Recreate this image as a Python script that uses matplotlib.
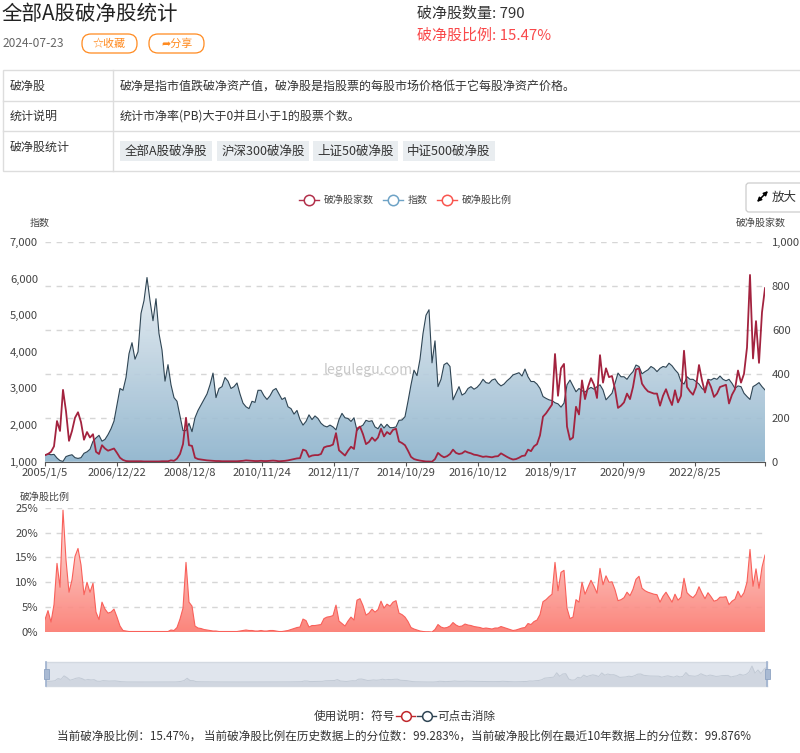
import numpy as np
import matplotlib
matplotlib.use("Agg")
import matplotlib.pyplot as plt
from matplotlib.colors import LinearSegmentedColormap
from matplotlib.patches import FancyBboxPatch, Rectangle
from matplotlib.lines import Line2D

plt.rcParams['font.family'] = ['Noto Sans CJK SC', 'DejaVu Sans']

tick_labels = ["2005/1/5", "2006/12/22", "2008/12/8", "2010/11/24", "2012/11/7",
               "2014/10/29", "2016/10/12", "2018/9/17", "2020/9/9", "2022/8/25"]

index_values = [
 1180,1210,1190,1200,1100,1030,1010,1140,1170,1190,1110,1090,1110,1230,1270,1340,1560,1650,1720,1560,
 1610,1740,1900,2110,2550,3000,2950,3300,3950,4250,3800,4000,5050,5400,6030,5400,4850,5450,4500,4050,
 3200,3650,3100,2750,2650,2250,1850,1850,2050,1820,2200,2400,2550,2700,2850,3100,3420,2750,3000,3050,
 3300,3200,3000,3050,3150,2850,2600,2500,2450,2650,2620,2950,2950,2800,2700,2800,2950,3000,2850,2700,
 2750,2500,2450,2300,2400,2150,2000,2100,2280,2150,2250,2180,2050,1980,1950,2000,1950,1870,2150,2320,
 2200,2180,2100,2200,1850,1950,2000,2130,2100,2120,1950,1900,2030,1920,2020,1930,1930,1950,2130,2140,
 2230,2650,3100,3500,3350,3800,4500,5000,5150,3700,4300,3050,3250,3650,3700,3600,2690,2870,3050,2820,
 2870,3000,3050,2980,3030,3120,3250,3160,3140,3230,3260,3140,3070,3120,3210,3280,3370,3400,3430,3340,
 3530,3320,3190,3190,3120,3000,2780,2730,2690,2670,2610,2580,2490,2600,3100,3230,3070,2910,3000,2940,
 2900,2980,3030,2980,3050,3100,2960,2690,2780,2870,3140,3420,3320,3320,3250,3370,3460,3640,3600,3400,
 3460,3510,3600,3550,3460,3550,3600,3580,3690,3620,3510,3420,3190,3120,3320,3250,3250,3190,3120,3000,
 2940,3250,3230,3280,3250,3340,3250,3210,3250,3140,3000,3070,3050,2870,2780,2700,3050,3100,3160,3050,
 2960]

count_values = [
 30,35,45,70,185,140,327,230,95,140,200,225,180,100,135,110,125,45,35,75,
 60,50,55,60,40,18,8,3,2,2,2,2,2,1,1,1,1,1,1,2,
 2,2,6,4,14,35,80,200,75,72,18,12,10,8,6,5,4,3,3,2,
 2,2,2,2,2,3,4,6,5,4,3,3,4,3,3,4,5,4,2,3,
 4,6,9,12,15,16,55,50,22,28,30,30,35,65,70,72,78,130,52,40,
 28,50,68,58,150,160,125,80,90,110,95,110,150,115,135,125,145,150,92,85,
 75,50,22,12,8,5,3,1,1,0,12,40,28,20,25,35,55,40,35,38,
 48,42,38,32,30,26,22,24,22,20,24,25,38,30,22,15,10,12,18,26,
 28,55,48,70,80,120,205,220,240,260,490,300,425,445,160,100,110,250,215,370,
 285,340,380,350,290,485,360,425,385,390,330,245,255,270,310,285,340,420,425,355,
 335,320,315,310,310,255,300,330,290,258,325,270,300,505,340,320,305,340,440,370,
 315,370,340,295,310,340,345,350,265,305,330,415,360,400,520,850,470,640,450,680,
 790]

ratio_values = [
 2.5,4.3,2.0,5.5,13.8,9.0,24.5,14.5,8,10.5,15.2,16.8,13.5,7.5,10,8,9.8,4,2.5,6,
 4.6,3.8,4,4.6,3,1.2,0.3,0.2,0.1,0.1,0.1,0.1,0.1,0.1,0.1,0.1,0.1,0.1,0.1,0.1,
 0.1,0.1,0.4,0.3,0.9,2.6,4.8,14,6,5.2,1.2,0.8,0.7,0.5,0.4,0.3,0.2,0.2,0.1,0.1,
 0.1,0.1,0.1,0.1,0.1,0.2,0.3,0.4,0.3,0.3,0.2,0.2,0.3,0.2,0.2,0.3,0.3,0.2,0.1,0.1,
 0.2,0.3,0.5,0.7,0.9,1,2.6,2.3,1,1.3,1.3,1.4,1.5,2.7,3,3.1,3.3,5.4,2.2,1.7,
 1.2,2.2,3,2.4,6.4,6.7,5.3,3.4,3.8,4.6,4,4.5,6.2,4.8,5.6,5.2,6,6.3,3.8,3.5,
 3,2.1,0.9,0.6,0.4,0.2,0.1,0.05,0.05,0,0.5,1.5,1,0.8,0.9,1.2,1.9,1.4,1.1,1.2,
 1.6,1.4,1.3,1.1,1,0.9,0.7,0.8,0.7,0.6,0.8,0.8,1.1,0.9,0.7,0.5,0.3,0.4,0.6,0.8,
 0.9,1.7,1.5,2.1,2.4,3.5,6.1,6.5,7.1,7.6,14,8.3,12,12.4,4.8,2.7,3,6.5,6,10,
 7.6,9,10.4,9.2,7.8,12.8,9.5,11.3,10,10.1,8.5,6.3,6.5,6.9,8,7.3,8.6,10.6,11.2,8.8,
 8.3,8,7.8,7.6,7.5,6,7.2,8,7,6,7.6,6.4,7,10.8,7.9,7.3,6.9,7.6,9.1,7.8,
 6.7,7.9,7.1,6.2,6.4,7,7,7.1,5.5,6.2,6.6,8.2,7,7.9,10,16.6,9.2,12.7,8.8,13,
 15.47]

W, H = 800, 753
fig = plt.figure(figsize=(W/100, H/100), dpi=100, facecolor='white')

def px_axes(x0, y0, x1, y1, **kw):
    return fig.add_axes([x0/W, 1-y1/H, (x1-x0)/W, (y1-y0)/H], **kw)

# page layer
pg = px_axes(0, 0, W, H)
pg.set_xlim(0, W); pg.set_ylim(H, 0); pg.axis('off')
pt = 0.72
def T(x, y, s, px=12, c='#333333', ha='left', **kw):
    return pg.text(x, y, s, fontsize=px*pt, color=c, ha=ha, va='center', **kw)

T(2, 14, "全部A股破净股统计", 20.5, '#222222')
T(3, 43, "2024-07-23", 12, '#666666')
orange = '#ff8a1f'
for x0, x1, s in [(82, 137, "☆收藏"), (149, 204, "➦分享")]:
    pg.add_patch(FancyBboxPatch((x0+9, 34+9), x1-x0-18, 1, boxstyle="round,pad=9", fc='white', ec=orange, lw=0.9))
    T((x0+x1)/2, 43.5, s, 11, orange, ha='center')
T(417, 14, "破净股数量: 790", 15, '#333333')
T(417, 36, "破净股比例: 15.47%", 15, '#f9484a')

line = '#dddddd'
pg.add_patch(Rectangle((3, 70), 800, 101, fc='white', ec=line, lw=1))
for y in (101, 131):
    pg.plot([3, W], [y, y], color=line, lw=1)
pg.plot([113, 113], [70, 171], color=line, lw=1)
T(10, 86, "破净股", 12)
T(10, 116, "统计说明", 12)
T(10, 147, "破净股统计", 12)
T(120, 86, "破净是指市值跌破净资产值，破净股是指股票的每股市场价格低于它每股净资产价格。", 12)
T(120, 116, "统计市净率(PB)大于0并且小于1的股票个数。", 12)
for x0, x1, s in [(120, 212, "全部A股破净股"), (217, 309, "沪深300破净股"),
                  (313, 398, "上证50破净股"), (403, 495, "中证500破净股")]:
    pg.add_patch(Rectangle((x0, 141), x1-x0, 20, fc='#e9edf0', ec='none'))
    T((x0+x1)/2, 151, s, 12.5, ha='center')

pg.add_patch(FancyBboxPatch((749, 186), 60, 23, boxstyle="round,pad=3", fc='white', ec='#cccccc', lw=0.9))
pg.annotate("", xy=(768, 191), xytext=(757, 202),
            arrowprops=dict(arrowstyle='<|-|>', color='#000000', lw=1.1, mutation_scale=6,
                            shrinkA=0, shrinkB=0))
T(772, 197, "放大", 12.5, '#333333')

def legend_mark(x0, x1, y, color, ms=7.5, lw=1):
    pg.add_line(Line2D([x0, x1], [y, y], color=color, lw=lw))
    pg.plot([(x0+x1)/2], [y], 'o', ms=ms, mfc='white', mec=color, mew=1.1)

legend_mark(299, 319, 200, '#b2304b')
T(324, 200, "破净股家数", 10, '#444444')
legend_mark(383, 403, 200, '#6ea3c6')
T(408, 200, "指数", 10, '#444444')
legend_mark(437, 457, 200, '#f9564f')
T(462, 200, "破净股比例", 10, '#444444')

T(40, 223, "指数", 10, '#444444', ha='center')
T(761, 223, "破净股家数", 10, '#444444', ha='center')
T(45, 497, "破净股比例", 10, '#444444', ha='center')

T(314, 716, "使用说明：符号", 11.6)
legend_mark(396, 415, 716, '#c0282c', ms=7)
legend_mark(417, 436, 716, '#2f4554', ms=7)
T(437, 716, "可点击消除", 11.6)
T(57, 736, "当前破净股比例：15.47%， 当前破净股比例在历史数据上的分位数：99.283%，当前破净股比例在最近10年数据上的分位数：99.876%", 11.6)

xi = np.arange(len(index_values))
xc = np.arange(len(count_values))
xr = np.arange(len(ratio_values))
xlim = (0, 240)
tick_pos = np.arange(len(tick_labels)) * 24.07
tick_fs = 8.1

def gradient_fill(ax, x, y, base, top_c, bot_c):
    poly = ax.fill_between(x, base, y, color='none', lw=0)
    cmap = LinearSegmentedColormap.from_list('g', [bot_c, top_c])
    grad = np.linspace(0, 1, 256).reshape(-1, 1)
    im = ax.imshow(grad, extent=[x[0], x[-1], base, max(y)], origin='lower',
                   aspect='auto', cmap=cmap, zorder=1, alpha=0.92)
    im.set_clip_path(poly.get_paths()[0], transform=ax.transData)

dash = dict(color='#d6d6d6', lw=1, ls=(0, (4, 4)))

# count scale axes: gridlines, right labels
x0, x1 = 45, 765
y0, y1 = 242, 461.7
ag = px_axes(x0, y0, x1, y1)
ag.set_xlim(*xlim); ag.set_ylim(0, 1000)
ag.patch.set_visible(False)
ag.set_yticks(range(0, 1001, 200))
ag.set_yticklabels([f"{v:,}" for v in range(0, 1001, 200)], fontsize=tick_fs, color='#444444')
ag.yaxis.tick_right()
ag.tick_params(axis='y', length=0, pad=5)
ag.set_xticks([])
ag.grid(axis='y', **dash)
for s in ag.spines.values():
    s.set_visible(False)

# index axes
ai = px_axes(x0, y0, x1, y1)
ai.patch.set_visible(False)
gradient_fill(ai, xi, index_values, 1000, '#e6ecf1', '#8db3cc')
ai.plot(xi, index_values, color='#2f4554', lw=0.8, zorder=3)
ai.set_xlim(*xlim); ai.set_ylim(1000, 7000)
ai.set_yticks(range(1000, 7001, 1000))
ai.set_yticklabels([f"{v:,}" for v in range(1000, 7001, 1000)], fontsize=tick_fs, color='#444444')
ai.tick_params(axis='y', length=0, pad=5)
ai.set_xticks(list(tick_pos) + [240])
ai.set_xticklabels(tick_labels + [""], fontsize=tick_fs, color='#444444')
ai.tick_params(axis='x', length=3, color='#555555', pad=1)
for k in ('top', 'left', 'right'):
    ai.spines[k].set_visible(False)
ai.spines['bottom'].set_color('#555555')

# count line axes
ac = px_axes(x0, y0, x1, y1)
ac.patch.set_visible(False)
ac.plot(xc, count_values, color='#a3233f', lw=1.3, zorder=4)
ac.set_xlim(*xlim); ac.set_ylim(0, 1000)
ac.axis('off')

T(368.5, 370, "legulegu.com", 14, '#c8c8c8', ha='center')

# ratio panel
ar = px_axes(x0, 507.7, x1, 632)
ar.patch.set_visible(False)
ar.grid(axis='y', **dash)
ar.set_axisbelow(True)
gradient_fill(ar, xr, ratio_values, 0, '#fde3e0', '#fb7a70')
ar.plot(xr, ratio_values, color='#f9605a', lw=0.8, zorder=3)
ar.set_xlim(*xlim); ar.set_ylim(0, 25)
ar.set_yticks(range(0, 26, 5))
ar.set_yticklabels([f"{v}%" for v in range(0, 26, 5)], fontsize=tick_fs, color='#444444')
ar.tick_params(axis='y', length=0, pad=5)
ar.set_xticks([])
for s in ar.spines.values():
    s.set_visible(False)

# data zoom slider
az = px_axes(46, 662, 767, 686)
az.set_facecolor('#e0e5ed')
az.fill_between(xc, -213, count_values, color='#d0d6e0', lw=0)
az.plot(xc, count_values, color='#c2cad5', lw=0.7)
az.set_xlim(*xlim); az.set_ylim(-213, 1064)
az.set_xticks([]); az.set_yticks([])
for s in az.spines.values():
    s.set_color('#d3d9e1'); s.set_linewidth(1)
for xh in (46, 767):
    pg.plot([xh, xh], [662, 686], color='#9fb2cf', lw=1.2, zorder=6)
    pg.add_patch(Rectangle((xh-2.5, 669), 5, 10, fc='#a9bad3', ec='#8ea3c2', lw=0.6, zorder=7))
pg.set_zorder(5)
pg.patch.set_visible(False)

fig.savefig("out.png", dpi=100)
